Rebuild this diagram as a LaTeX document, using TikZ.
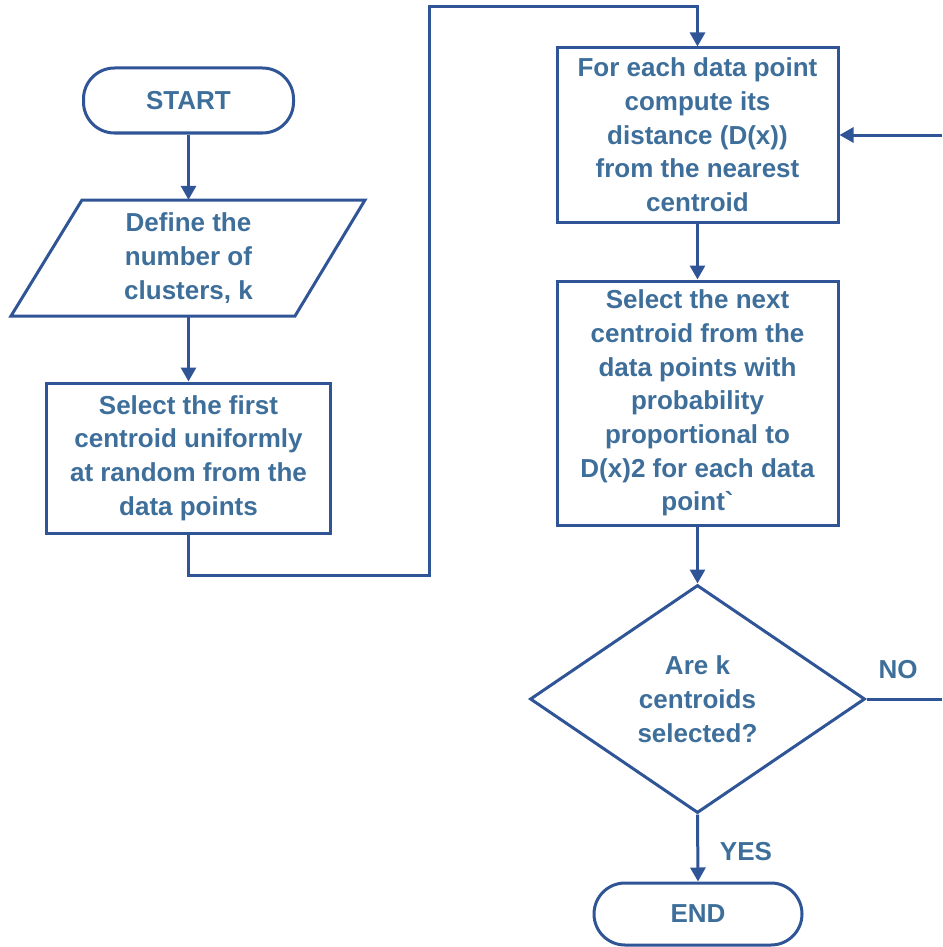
\documentclass[tikz,border=0pt]{standalone}
\usepackage{fontspec}
\setmainfont{Liberation Sans}
\usetikzlibrary{arrows.meta,shapes.geometric}
\definecolor{lineblue}{RGB}{47,85,151}
\definecolor{textblue}{RGB}{62,110,154}
\tikzset{
  shapeline/.style={draw=lineblue, line width=3pt},
  txt/.style={text=textblue, font=\bfseries\fontsize{26}{33.7}\selectfont, align=center, inner sep=0pt},
  procbox/.style={shapeline, txt, rectangle},
  termbox/.style={shapeline, txt, rectangle, rounded corners=31pt},
  decbox/.style={shapeline, txt, diamond},
  conn/.style={draw=lineblue, line width=3pt},
  arr/.style={conn, -{Triangle[length=14pt,width=15pt]}},
  lbl/.style={txt}
}
\begin{document}
\begin{tikzpicture}[x=1pt,y=-1pt]
\useasboundingbox (0,0) rectangle (942,947);
% terminals
\node[termbox, minimum width=210pt, minimum height=65pt] (start) at (188.5,100.5) {START};
\node[termbox, minimum width=208pt, minimum height=62pt] (end) at (698,914) {END};
% input parallelogram
\draw[shapeline, line join=miter] (82,200) -- (365,200) -- (295,316) -- (11,316) -- cycle;
\node[txt, minimum width=200pt, minimum height=116pt] (inp) at (188.5,258) {Define the\\number of\\clusters, k};
% process boxes
\node[procbox, minimum width=284pt, minimum height=150pt] (box1) at (188.5,458) {Select the first\\centroid uniformly\\at random from the\\data points};
\node[procbox, minimum width=281pt, minimum height=174pt] (box2) at (697.5,135) {For each data point\\compute its\\distance (D(x))\\from the nearest\\centroid};
\node[procbox, minimum width=281pt, minimum height=244pt] (box3) at (697.5,403) {Select the next\\centroid from the\\data points with\\probability\\proportional to\\D(x)2 for each data\\point\textasciigrave};
% decision
\node[decbox, minimum width=335pt, minimum height=228pt] (dec) at (697.5,699) {Are k\\centroids\\selected?};
% labels
\node[lbl] (no) at (898,670) {NO};
\node[lbl] (yes) at (746,852) {YES};
% connectors
\draw[arr] (start.south) -- (inp.north);
\draw[arr] (inp.south) -- (box1.north);
\coordinate (c1) at (429,575);
\coordinate (c2) at (429,7);
\draw[arr] (box1.south) |- (c1) -- (c2) -| (box2.north);
\draw[arr] (box2.south) -- (box3.north);
\draw[arr] (box3.south) -- (dec.north);
\draw[arr] (dec.south) -- (end.north);
\coordinate (r1) at (942,699);
\coordinate (r2) at (942,135);
\draw[conn] (dec.east) -- (r1);
\draw[arr] (r2) -- (box2.east);
\end{tikzpicture}
\end{document}
